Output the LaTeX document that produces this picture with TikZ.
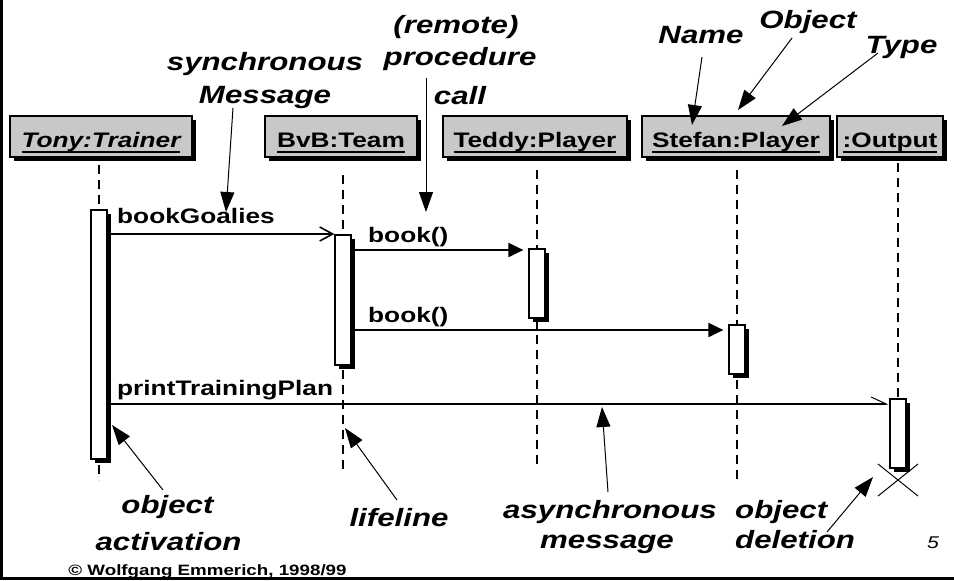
\documentclass[tikz,border=0pt]{standalone}
\usepackage{fontspec}
\setmainfont{Liberation Sans}[FakeStretch=1.25]
\usetikzlibrary{arrows.meta,shadows}
\definecolor{hdrgray}{RGB}{200,200,200}
\newcommand\ulbox[1]{\setbox0=\hbox{#1}\rlap{\rule[-5.75pt]{\wd0}{1.5pt}}\box0}
\begin{document}
\begin{tikzpicture}[x=1pt,y=-1pt,
  shad/.style={drop shadow={shadow xshift=3.5pt,shadow yshift=-3.5pt,fill=black,opacity=1}},
  hdr/.style={draw,line width=1.4pt,fill=hdrgray,inner sep=0pt,minimum height=41pt,text height=27pt,text depth=6pt,font=\bfseries\fontsize{21}{25}\selectfont,shad},
  act/.style={draw,line width=1.2pt,fill=white,inner sep=0pt,minimum width=16pt,shad},
  life/.style={line width=2pt,dash pattern=on 9pt off 6pt},
  msg/.style={line width=2pt},
  lbl/.style={font=\bfseries\fontsize{21}{25}\selectfont,anchor=base west,inner sep=0pt},
  note/.style={font=\bfseries\itshape\fontsize{25}{30}\selectfont,anchor=base,inner sep=0pt},
  ptr/.style={line width=1pt,-{Triangle[length=20pt,width=14pt]}}
]
\useasboundingbox (0,0) rectangle (954,581);
% frame
\draw[line width=3pt] (1.5,0) -- (1.5,578.5) -- (954,578.5);

% headers
\node[hdr,minimum width=182pt] (tony) at (101,136.5) {\itshape\ulbox{Tony:Trainer}};
\node[hdr,minimum width=152pt] (bvb) at (341,136.5) {\ulbox{BvB:Team}};
\node[hdr,minimum width=184pt] (teddy) at (535,136.5) {\ulbox{Teddy:Player}};
\node[hdr,minimum width=188pt] (stefan) at (736,136.5) {\ulbox{Stefan:Player}};
\node[hdr,minimum width=106pt] (output) at (890,136.5) {\ulbox{:Output}};

% lifelines
\coordinate (tonyT) at (99,165);   \coordinate (tonyB) at (99,480);
\coordinate (bvbT) at (343,175);   \coordinate (bvbB) at (343,472);
\coordinate (teddyT) at (537,170); \coordinate (teddyB) at (537,467);
\coordinate (stefT) at (737,170);  \coordinate (stefB) at (737,482);
\coordinate (outT) at (898,163);   \coordinate (outB) at (898,399);
\draw[life] (tonyT) -- (tonyB);
\draw[life] (bvbT) -- (bvbB);
\draw[life] (teddyT) -- (teddyB);
\draw[life] (stefT) -- (stefB);
\draw[life] (outT) -- (outB);

% activations
\node[act,minimum height=249pt] (tonyA) at (99,334.5) {};
\node[act,minimum height=130pt] (bvbA) at (343,300) {};
\node[act,minimum height=69pt] (teddyA) at (537,283.5) {};
\node[act,minimum height=49pt] (stefA) at (737,349.5) {};
\node[act,minimum height=69pt] (outA) at (898,433.5) {};

% deletion cross
\draw[line width=1pt] (878,464) -- (918,496) (878,496) -- (918,464);

% messages
\coordinate (m1) at (0,234);
\coordinate (m2) at (0,250);
\coordinate (m3) at (0,330);
\coordinate (m4) at (0,404);
\draw[msg,-{Straight Barb[length=13pt,width=14pt,line width=1.6pt]}] (tonyA.east |- m1) -- (bvbA.west |- m1);
\draw[msg,-{Triangle[length=15pt,width=14pt]},shorten >=5pt] (bvbA.east |- m2) -- (teddyA.west |- m2);
\draw[msg,-{Triangle[length=15pt,width=14pt]},shorten >=5pt] (bvbA.east |- m3) -- (stefA.west |- m3);
\draw[msg,-{Straight Barb[left,length=15pt,width=14pt,line width=1pt]},shorten >=1pt] (tonyA.east |- m4) -- (outA.west |- m4);
\node[lbl] (l1) at (117,223) {bookGoalies};
\node[lbl] (l2) at (368,242) {book()};
\node[lbl] (l3) at (368,322) {book()};
\node[lbl] (l4) at (117,395) {printTrainingPlan};

% annotations
\node[note] (sync1) at (265,70) {synchronous};
\node[note] (sync2) at (265,103) {Message};
\node[note] (rem1) at (456,33) {(remote)};
\node[note] (rem2) at (460,65) {procedure};
\node[note] (rem3) at (460,104) {call};
\node[note] (nm) at (701,43) {Name};
\node[note] (obj) at (808,28) {Object};
\node[note] (typ) at (901.5,53) {Type};
\node[note] (oa1) at (167.5,513) {object};
\node[note] (oa2) at (168.5,550) {activation};
\node[note] (lifel) at (399,526) {lifeline};
\node[note] (as1) at (610,518) {asynchronous};
\node[note] (as2) at (607,548) {message};
\node[note,anchor=base west] (od1) at (735,518) {object};
\node[note,anchor=base west] (od2) at (735,548) {deletion};
\node[anchor=base,inner sep=0pt,font=\itshape\fontsize{17}{20}\selectfont] (page) at (933,548) {5};
\node[anchor=base,inner sep=0pt,font=\bfseries\fontsize{15}{18}\selectfont] (copy) at (207.5,575) {© Wolfgang Emmerich, 1998/99};

% pointers
\coordinate (p1s) at (233,108); \coordinate (p1e) at (226,212);
\coordinate (p2s) at (426,78);  \coordinate (p2e) at (426,212);
\coordinate (p3s) at (702,57);  \coordinate (p3e) at (692,125);
\coordinate (p4s) at (792,38);  \coordinate (p4e) at (738,110);
\coordinate (p5s) at (878,53);  \coordinate (p5e) at (782,126);
\coordinate (p6s) at (163,490); \coordinate (p6e) at (112,425);
\coordinate (p7s) at (397,500); \coordinate (p7e) at (345,428);
\coordinate (p8s) at (608,492); \coordinate (p8e) at (602,407);
\coordinate (p9s) at (827,532); \coordinate (p9e) at (873,477);
\draw[ptr] (p1s) -- (p1e);
\draw[ptr] (p2s) -- (p2e);
\draw[ptr] (p3s) -- (p3e);
\draw[ptr] (p4s) -- (p4e);
\draw[ptr] (p5s) -- (p5e);
\draw[ptr] (p6s) -- (p6e);
\draw[ptr] (p7s) -- (p7e);
\draw[ptr] (p8s) -- (p8e);
\draw[ptr] (p9s) -- (p9e);
\end{tikzpicture}
\end{document}
